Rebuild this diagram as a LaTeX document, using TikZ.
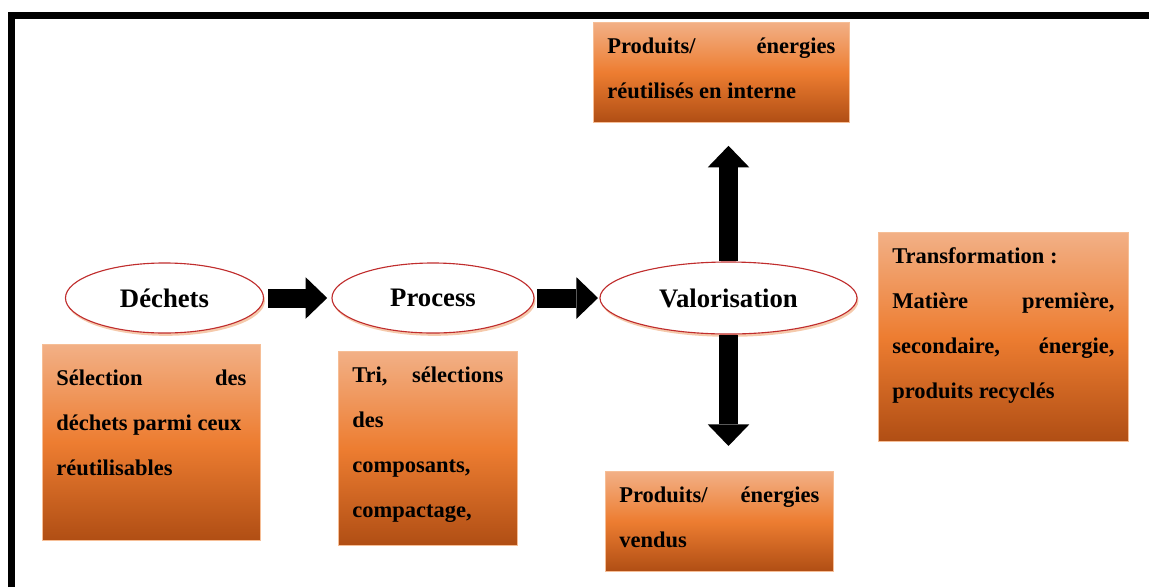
\documentclass[tikz,border=0pt]{standalone}
\usepackage{fontspec}
\setmainfont{Liberation Serif}
\usepackage{tikz}
\usetikzlibrary{shapes.geometric,arrows.meta,shadows}

\definecolor{boxtop}{RGB}{242,176,134}
\definecolor{boxmid}{RGB}{237,125,49}
\definecolor{boxbot}{RGB}{176,78,20}
\definecolor{boxline}{RGB}{246,190,150}
\definecolor{ellline}{RGB}{192,45,45}
\definecolor{ellglow}{RGB}{236,150,90}

% text of a box: [shift of first line]{width}{height}{lines}
\newcommand{\boxtext}[4][0pt]{\parbox[c][#3][t]{#2}{\vspace*{#1}\fontsize{16}{32}\selectfont\bfseries\strut #4}}

\begin{document}
\begin{tikzpicture}[x=0.025cm,y=-0.025cm,
    ell/.style={ellipse,draw=ellline,line width=0.8pt,fill=white,
      drop shadow={fill=ellglow,opacity=0.5,shadow xshift=1pt,shadow yshift=-2pt},
      minimum width=4.95cm,minimum height=1.75cm,
      font=\fontsize{19}{23}\selectfont\bfseries},
    obox/.style={rectangle,draw=boxline,line width=0.5pt,anchor=north west,
      top color=boxtop,bottom color=boxbot,middle color=boxmid,
      inner xsep=0.35cm,inner ysep=0pt},
    bigarrow/.style={line width=13.5pt,
      -{Triangle[width=29.5pt,length=15.3pt,line width'=0pt]}}]

    \useasboundingbox (0,0) rectangle (1149,587);
    \draw[line width=5pt] (11.5,587) -- (11.5,15.5) -- (1149,15.5);

    \node[ell] (dech) at (164.5,298) {Déchets};
    \node[ell,minimum width=5.05cm] (proc) at (433,298) {Process};
    \node[ell,minimum width=6.425cm,minimum height=1.8cm] (valo) at (728.5,298) {Valorisation};

    \node[obox] (sel) at (42,344) {\boxtext[6.8pt]{4.75cm}{4.9cm}{S\'election\hfill des\\ d\'echets parmi ceux\\ r\'eutilisables}};
    \node[obox] (tri) at (338,351) {\boxtext{3.775cm}{4.85cm}{Tri,\hfill s\'elections\\ des\\ composants,\\ compactage,}};
    \node[obox] (prodint) at (593,22) {\boxtext{5.7cm}{2.5cm}{Produits/\hfill \'energies\\ r\'eutilis\'es en interne}};
    \node[obox] (prodvend) at (605,471) {\boxtext{5cm}{2.5cm}{Produits/\hfill \'energies\\ vendus}};
    \node[obox] (transf) at (878,232) {\boxtext{5.55cm}{5.225cm}{Transformation :\\ Mati\`ere\hfill premi\`ere,\\ secondaire,\hfill \'energie,\\ produits recycl\'es}};

    \draw[bigarrow,shorten <=3pt,shorten >=3pt] (dech) -- (proc);
    \draw[bigarrow,shorten <=2pt,shorten >=1pt] (proc) -- (valo);
    \draw[bigarrow,shorten >=16.4pt] (valo.north) -- (valo.north |- prodint.south);
    \draw[bigarrow,shorten >=17.8pt] (valo.south) -- (valo.south |- prodvend.north);

\end{tikzpicture}
\end{document}
